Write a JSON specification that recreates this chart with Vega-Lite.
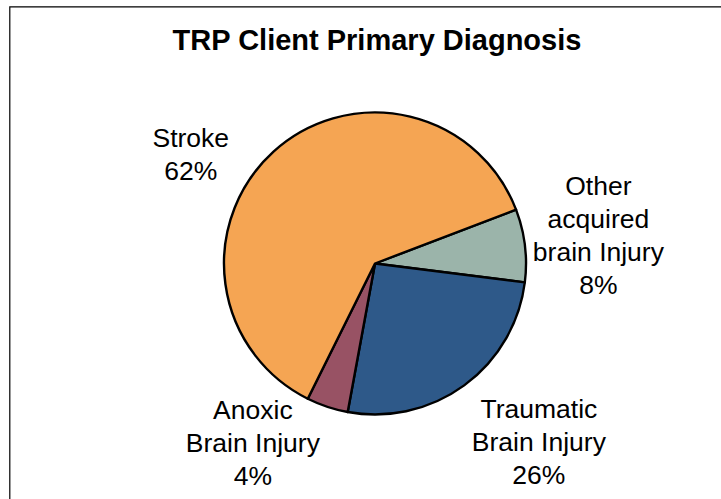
{
  "$schema": "https://vega.github.io/schema/vega-lite/v6.json",
  "width": 731,
  "height": 514,
  "autosize": {"type": "none"},
  "padding": {"left": 9.5, "top": 6.5, "right": -19.5, "bottom": -21.5},
  "background": "white",
  "view": {"stroke": "black", "strokeWidth": 1.2, "fill": null},
  "title": {
    "text": "TRP Client Primary Diagnosis",
    "font": "Liberation Sans",
    "fontSize": 29,
    "fontWeight": "bold",
    "color": "black",
    "baseline": "alphabetic",
    "offset": -45.5,
    "dx": 2,
    "dy": 27
  },
  "data": {
    "values": [
      {"category": "Other acquired brain Injury", "value": 7.8, "ord": 1, "label": "Other\nacquired\nbrain Injury\n8%"},
      {"category": "Traumatic Brain Injury", "value": 25.9, "ord": 2, "label": "Traumatic\nBrain Injury\n26%"},
      {"category": "Anoxic Brain Injury", "value": 4.45, "ord": 3, "label": "Anoxic\nBrain Injury\n4%"},
      {"category": "Stroke", "value": 61.85, "ord": 4, "label": "Stroke\n62%"}
    ]
  },
  "encoding": {
    "theta": {"field": "value", "type": "quantitative", "stack": true, "scale": {"range": [1.206, 7.4892]}},
    "order": {"field": "ord", "type": "quantitative"}
  },
  "layer": [
    {
      "mark": {"type": "arc", "outerRadius": 151, "stroke": "black", "strokeWidth": 2.4, "strokeJoin": "round"},
      "encoding": {
        "color": {
          "field": "category",
          "type": "nominal",
          "scale": {
            "domain": ["Other acquired brain Injury", "Traumatic Brain Injury", "Anoxic Brain Injury", "Stroke"],
            "range": ["#9BB4AA", "#2E5989", "#985264", "#F5A553"]
          },
          "legend": null
        }
      }
    },
    {
      "mark": {
        "type": "text",
        "radius": 225,
        "font": "Liberation Sans",
        "fontSize": 26.5,
        "lineBreak": "\n",
        "lineHeight": 33,
        "baseline": "middle",
        "align": "center",
        "color": "black",
        "dx": {"expr": "datum.ord == 2 ? 31 : datum.ord == 3 ? -51 : datum.ord == 4 ? -33 : 0"},
        "dy": {"expr": "datum.ord == 1 ? -49.5 : datum.ord == 2 ? -35 : datum.ord == 3 ? -66 : 42.5"}
      },
      "encoding": {
        "text": {"field": "label", "type": "nominal"},
        "detail": {"field": "category", "type": "nominal"}
      }
    }
  ]
}
